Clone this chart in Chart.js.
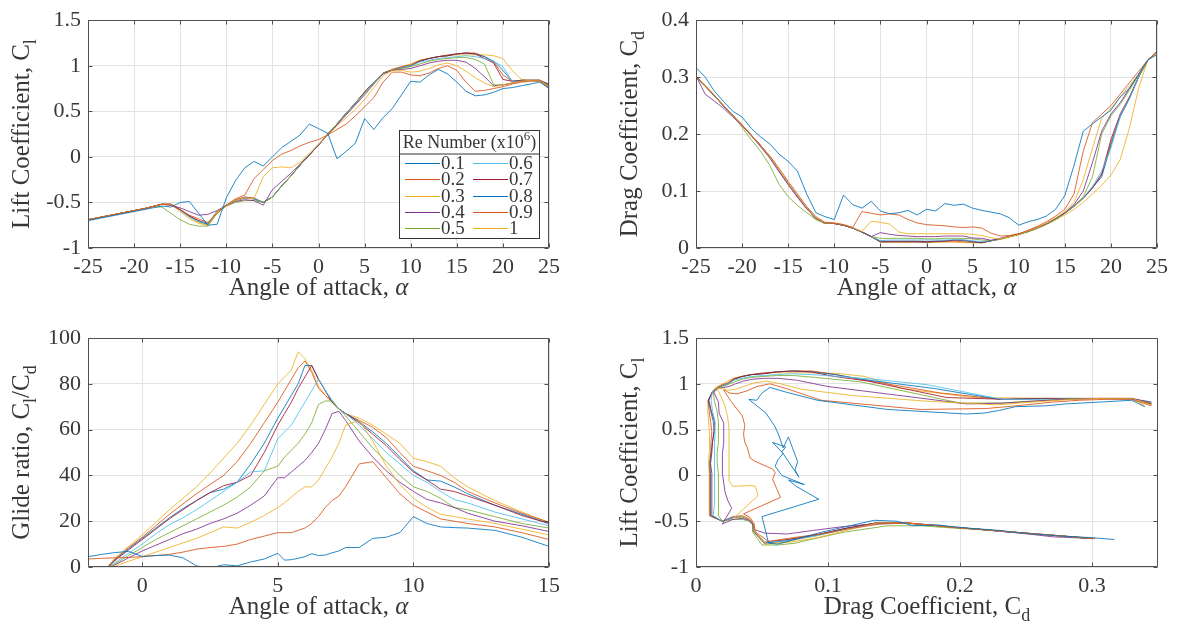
<!DOCTYPE html>
<html>
<head>
<meta charset="utf-8">
<script src="https://cdn.jsdelivr.net/npm/chart.js@4.4.1/dist/chart.umd.min.js"></script>
<style>
  html, body { margin: 0; padding: 0; background: #fff; }
  body { width: 1178px; height: 626px; position: relative; overflow: hidden; }
  .panel { position: absolute; width: 589px; height: 313px; }
</style>
</head>
<body>
<div class="panel" style="left:0;top:0"><canvas id="lift"></canvas></div>
<div class="panel" style="left:589px;top:0"><canvas id="drag"></canvas></div>
<div class="panel" style="left:0;top:313px"><canvas id="glide"></canvas></div>
<div class="panel" style="left:589px;top:313px"><canvas id="polar"></canvas></div>
<script>
// Re numbers (x10^6) and MATLAB default line colours
const reNumbers = ['0.1', '0.2', '0.3', '0.4', '0.5', '0.6', '0.7', '0.8', '0.9', '1'];
const lineColors = ['#0072BD', '#D95319', '#EDB120', '#7E2F8E', '#77AC30',
                    '#4DBEEE', '#A2142F', '#0072BD', '#D95319', '#EDB120'];

// angle of attack, deg
const alpha = [-25, -24, -23, -22, -21, -20, -19, -18, -17, -16, -15, -14, -13, -12, -11,
  -10, -9, -8, -7, -6, -5, -4, -3, -2, -1, 0, 1, 2, 3, 4, 5, 6, 7, 8, 9,
  10, 11, 12, 13, 14, 15, 16, 17, 18, 19, 20, 21, 22, 23, 24, 25];

// lift coefficient per Re
const cl01 = [-0.70,-0.68,-0.66,-0.64,-0.62,-0.60,-0.58,-0.56,-0.54,-0.55,-0.50,-0.49,-0.62,-0.75,-0.74,-0.45,-0.26,-0.12,-0.05,-0.10,0.00,0.10,0.17,0.24,0.36,0.31,0.26,-0.02,0.06,0.15,0.42,0.30,0.43,0.53,0.68,0.83,0.82,0.90,0.96,0.91,0.82,0.72,0.67,0.68,0.71,0.75,0.76,0.78,0.80,0.82,0.75];
const cl02 = [-0.69,-0.67,-0.65,-0.63,-0.61,-0.59,-0.57,-0.545,-0.52,-0.53,-0.58,-0.64,-0.68,-0.72,-0.62,-0.53,-0.46,-0.42,-0.24,-0.14,-0.04,0.03,0.07,0.12,0.16,0.19,0.24,0.30,0.36,0.45,0.55,0.65,0.82,0.93,0.93,0.90,0.89,0.92,0.97,1.00,0.95,0.82,0.72,0.73,0.75,0.77,0.80,0.82,0.83,0.83,0.76];
const cl03 = [-0.69,-0.67,-0.65,-0.63,-0.61,-0.59,-0.57,-0.545,-0.52,-0.52,-0.60,-0.68,-0.73,-0.75,-0.60,-0.53,-0.48,-0.45,-0.46,-0.22,-0.12,-0.11,-0.12,-0.06,0.04,0.14,0.24,0.34,0.43,0.52,0.63,0.76,0.89,0.95,0.95,0.93,0.94,0.97,1.01,1.03,1.00,0.94,0.87,0.81,0.77,0.79,0.81,0.83,0.84,0.84,0.77];
const cl04 = [-0.69,-0.67,-0.65,-0.63,-0.61,-0.59,-0.57,-0.545,-0.52,-0.53,-0.56,-0.60,-0.64,-0.63,-0.59,-0.53,-0.49,-0.47,-0.48,-0.53,-0.36,-0.27,-0.18,-0.08,0.02,0.13,0.24,0.35,0.46,0.57,0.68,0.80,0.91,0.95,0.96,0.97,1.00,1.03,1.05,1.06,1.06,1.04,0.97,0.88,0.78,0.79,0.81,0.83,0.84,0.84,0.80];
const cl05 = [-0.69,-0.67,-0.65,-0.63,-0.61,-0.59,-0.57,-0.55,-0.55,-0.62,-0.69,-0.74,-0.76,-0.76,-0.62,-0.54,-0.50,-0.48,-0.48,-0.50,-0.44,-0.32,-0.21,-0.09,0.02,0.13,0.25,0.36,0.47,0.58,0.70,0.81,0.92,0.95,0.97,0.99,1.02,1.05,1.07,1.08,1.09,1.09,1.07,1.02,0.79,0.79,0.81,0.83,0.84,0.84,0.79];
const cl06 = [-0.69,-0.67,-0.65,-0.63,-0.61,-0.59,-0.57,-0.545,-0.52,-0.53,-0.59,-0.66,-0.71,-0.73,-0.60,-0.53,-0.48,-0.45,-0.46,-0.50,-0.44,-0.32,-0.21,-0.09,0.02,0.13,0.25,0.36,0.48,0.59,0.70,0.82,0.92,0.95,0.98,1.00,1.04,1.06,1.08,1.09,1.10,1.11,1.10,1.08,1.05,0.99,0.83,0.83,0.84,0.83,0.80];
const cl07 = [-0.69,-0.67,-0.65,-0.63,-0.61,-0.59,-0.57,-0.545,-0.52,-0.52,-0.58,-0.65,-0.70,-0.73,-0.60,-0.53,-0.48,-0.45,-0.46,-0.50,-0.44,-0.32,-0.21,-0.09,0.02,0.13,0.25,0.36,0.48,0.59,0.71,0.82,0.92,0.95,0.98,1.00,1.05,1.08,1.10,1.11,1.13,1.14,1.13,1.08,1.03,0.85,0.83,0.84,0.84,0.84,0.78];
const cl08 = [-0.69,-0.67,-0.65,-0.63,-0.61,-0.59,-0.57,-0.545,-0.52,-0.52,-0.58,-0.65,-0.71,-0.74,-0.60,-0.53,-0.48,-0.45,-0.46,-0.50,-0.44,-0.32,-0.21,-0.09,0.02,0.13,0.25,0.36,0.48,0.59,0.71,0.82,0.92,0.95,0.98,1.00,1.05,1.08,1.10,1.11,1.13,1.14,1.13,1.10,1.05,0.95,0.83,0.84,0.84,0.84,0.78];
const cl09 = [-0.69,-0.67,-0.65,-0.63,-0.61,-0.59,-0.57,-0.545,-0.52,-0.52,-0.58,-0.65,-0.70,-0.74,-0.60,-0.53,-0.47,-0.44,-0.45,-0.50,-0.44,-0.32,-0.21,-0.09,0.02,0.13,0.25,0.36,0.48,0.59,0.71,0.82,0.92,0.96,0.99,1.01,1.06,1.08,1.10,1.12,1.13,1.14,1.14,1.10,1.04,0.90,0.83,0.84,0.84,0.84,0.78];
const cl10 = [-0.69,-0.67,-0.65,-0.63,-0.61,-0.59,-0.57,-0.545,-0.52,-0.52,-0.58,-0.66,-0.72,-0.75,-0.61,-0.53,-0.48,-0.45,-0.46,-0.50,-0.44,-0.32,-0.21,-0.09,0.02,0.13,0.25,0.36,0.48,0.59,0.71,0.82,0.92,0.96,0.99,1.02,1.06,1.08,1.10,1.11,1.12,1.12,1.12,1.12,1.11,1.08,0.95,0.85,0.84,0.84,0.76];

// drag coefficient per Re
const cd01 = [0.317,0.300,0.275,0.257,0.240,0.230,0.210,0.195,0.183,0.165,0.152,0.135,0.095,0.062,0.055,0.050,0.093,0.076,0.070,0.082,0.065,0.060,0.062,0.066,0.058,0.068,0.065,0.078,0.075,0.077,0.070,0.066,0.063,0.060,0.053,0.040,0.046,0.050,0.056,0.068,0.092,0.145,0.205,0.218,0.230,0.242,0.265,0.280,0.305,0.330,0.340];
const cd02 = [0.302,0.285,0.268,0.250,0.233,0.216,0.198,0.180,0.162,0.140,0.117,0.095,0.073,0.055,0.045,0.044,0.041,0.036,0.064,0.061,0.058,0.060,0.058,0.050,0.044,0.041,0.040,0.039,0.037,0.036,0.037,0.035,0.026,0.021,0.022,0.025,0.031,0.038,0.046,0.056,0.068,0.095,0.170,0.220,0.235,0.250,0.270,0.290,0.310,0.330,0.345];
const cd03 = [0.302,0.285,0.268,0.250,0.233,0.216,0.198,0.180,0.160,0.137,0.114,0.092,0.071,0.053,0.044,0.044,0.041,0.036,0.029,0.047,0.045,0.042,0.028,0.025,0.025,0.025,0.025,0.025,0.025,0.025,0.024,0.022,0.018,0.016,0.020,0.024,0.030,0.036,0.044,0.053,0.064,0.080,0.120,0.175,0.228,0.245,0.265,0.285,0.305,0.330,0.345];
const cd04 = [0.302,0.270,0.258,0.245,0.230,0.215,0.197,0.178,0.158,0.134,0.111,0.089,0.069,0.052,0.044,0.043,0.040,0.035,0.028,0.020,0.027,0.024,0.022,0.021,0.020,0.020,0.020,0.021,0.021,0.021,0.0175,0.017,0.0135,0.017,0.021,0.025,0.030,0.036,0.043,0.052,0.062,0.076,0.100,0.150,0.205,0.235,0.255,0.280,0.305,0.330,0.345];
const cd05 = [0.302,0.285,0.268,0.250,0.233,0.212,0.190,0.170,0.145,0.112,0.090,0.075,0.062,0.050,0.043,0.043,0.040,0.035,0.028,0.020,0.017,0.017,0.017,0.017,0.017,0.016,0.016,0.017,0.017,0.017,0.016,0.014,0.013,0.016,0.020,0.024,0.029,0.035,0.042,0.051,0.061,0.074,0.090,0.125,0.200,0.232,0.252,0.277,0.303,0.330,0.345];
const cd06 = [0.300,0.284,0.267,0.249,0.232,0.216,0.198,0.180,0.160,0.136,0.113,0.091,0.070,0.052,0.043,0.043,0.040,0.035,0.028,0.020,0.013,0.014,0.014,0.014,0.014,0.014,0.014,0.014,0.0145,0.0145,0.0125,0.0115,0.0125,0.016,0.020,0.024,0.029,0.035,0.042,0.051,0.061,0.073,0.088,0.108,0.135,0.175,0.232,0.262,0.300,0.330,0.345];
const cd07 = [0.300,0.284,0.267,0.249,0.232,0.216,0.198,0.180,0.160,0.136,0.113,0.091,0.070,0.052,0.043,0.043,0.040,0.035,0.028,0.020,0.012,0.012,0.012,0.012,0.012,0.011,0.012,0.0125,0.0135,0.014,0.0115,0.0098,0.0127,0.016,0.020,0.024,0.029,0.035,0.042,0.051,0.061,0.073,0.087,0.105,0.130,0.190,0.235,0.265,0.300,0.330,0.345];
const cd08 = [0.300,0.284,0.267,0.249,0.232,0.216,0.198,0.180,0.160,0.136,0.113,0.091,0.070,0.052,0.043,0.043,0.040,0.035,0.028,0.020,0.011,0.011,0.011,0.011,0.011,0.0105,0.0115,0.0124,0.014,0.013,0.011,0.0093,0.0127,0.016,0.020,0.024,0.029,0.035,0.042,0.051,0.061,0.074,0.088,0.106,0.125,0.180,0.230,0.262,0.300,0.330,0.345];
const cd09 = [0.300,0.284,0.267,0.249,0.232,0.216,0.198,0.180,0.160,0.136,0.113,0.091,0.070,0.052,0.043,0.043,0.040,0.035,0.028,0.020,0.0105,0.0105,0.0105,0.0105,0.0105,0.010,0.011,0.0113,0.012,0.011,0.0099,0.0092,0.0128,0.016,0.020,0.024,0.029,0.035,0.042,0.051,0.061,0.074,0.088,0.106,0.128,0.185,0.232,0.263,0.300,0.330,0.345];
const cd10 = [0.300,0.284,0.267,0.249,0.232,0.216,0.198,0.180,0.160,0.136,0.113,0.091,0.070,0.052,0.043,0.043,0.040,0.035,0.028,0.020,0.010,0.010,0.010,0.010,0.010,0.0095,0.010,0.0103,0.0101,0.0095,0.0089,0.009,0.0128,0.0148,0.019,0.023,0.028,0.034,0.041,0.049,0.058,0.068,0.080,0.095,0.110,0.128,0.155,0.210,0.280,0.330,0.340];

// glide ratio Cl/Cd, read on its own angle grid
const glideAlpha = [-2, -1.5, -1, -0.5, 0, 0.5, 1, 1.5, 2, 2.5, 3, 3.5, 4, 4.5, 5, 5.25, 5.5, 5.75,
  6, 6.25, 6.5, 6.75, 7, 7.25, 7.5, 8, 8.5, 9, 9.5, 10, 10.5, 11, 11.5, 12, 13, 14, 15];
const gl01 = [4.5,5.5,6.3,6.8,4.6,5.0,5.2,4.0,0.5,-0.5,1.0,0.5,2.2,3.5,6.0,3.0,3.2,3.8,4.5,5.8,5.0,5.2,6.2,7.0,8.5,8.5,12.5,13.0,15.0,22.0,19.0,17.5,17.2,17.0,16.0,13.0,9.0];
const gl02 = [3.5,3.8,4.0,4.2,4.5,5.0,5.5,6.5,7.8,8.5,9.0,10.0,12.0,13.5,15.0,15.0,15.0,16.0,17.0,19.0,22.0,26.0,29.0,31.0,35.0,45.0,46.0,39.0,32.0,27.0,24.0,21.0,20.0,19.0,17.5,15.0,12.0];
const gl03 = [-8,-3,0.5,2.5,4.5,6.5,8.5,10.5,12.5,15,17.5,17,19.5,22.5,26,28,30.5,33,35,35,38,43,48,54,62,64,55,44,36,30,26,23,22,21,19,16.5,14];
const gl04 = [-8,-3,1,4,7,9.5,12,14.5,16.5,19,21,23.5,27,31,39,39,41.5,44,46.5,50,54,60,67,68,64,55,48,42,37,33,29.5,28,26,23.5,20,18,15.5];
const gl05 = [-8,-3,1.5,5,8.5,12,15,18,21,24,27,30.5,35,42,44,48,51,54,58,63,71,72.5,72.5,69,66,59,52,46,40,35,33,30,26,25,22,19,17];
const gl06 = [-8,-3,2,6,10,14.5,18.5,21.5,25,29,33,37,41.5,42,56,59,62,67,72,77,82,77,73,69,67,62,56,50,45,40,37,33,29.5,28,24,21,18];
const gl07 = [-8,-3,3,7.5,12,16.5,21,25,29,32.5,35.5,37,40,50,62,67,72,78,83,88,82,77,72,69,67,63,58,53,47,41.5,38,34,33,31,27,22.5,19];
const gl08 = [-8,-3,3,8,12.5,17,21.5,25.5,29,32.5,34,37,45,54,65,70,75,80,88,88,82,77,72,69,67,63.5,59,54,48,42,38,37.5,35,32,27,23,19];
const gl09 = [-8,-3,3.5,8.5,13,18,23,27.5,32,36,40,46,54,63,72,77,82,87,90,85,78,75,72,69,67,64,61,56.5,50,44,42,40,37,33,28,23.5,19.5];
const gl10 = [-8,-3,4,9,14,19.5,25,30,35,41,47.5,54,62,71,80,83,86,94,91,86,79,75,72,69,67,65,62,58,54,47.5,46,44,39,35,29,24,19.5];

// tick values
const alphaTicks = [-25, -20, -15, -10, -5, 0, 5, 10, 15, 20, 25];
const liftTicks = [-1, -0.5, 0, 0.5, 1, 1.5];
const dragTicks = [0, 0.1, 0.2, 0.3, 0.4];
const glideAlphaTicks = [0, 5, 10, 15];
const glideTicks = [0, 20, 40, 60, 80, 100];
const polarDragTicks = [0, 0.1, 0.2, 0.3];

const liftSets = [cl01, cl02, cl03, cl04, cl05, cl06, cl07, cl08, cl09, cl10];
const dragSets = [cd01, cd02, cd03, cd04, cd05, cd06, cd07, cd08, cd09, cd10];
const glideSets = [gl01, gl02, gl03, gl04, gl05, gl06, gl07, gl08, gl09, gl10];

const FONT = '"Liberation Serif", "DejaVu Serif", serif';
const TEXT = '#383838';

function makeDatasets(getPoints) {
  return reNumbers.map((re, k) => ({
    label: re,
    data: getPoints(k),
    borderColor: lineColors[k],
    backgroundColor: lineColors[k],
    borderWidth: 0.85,
    pointRadius: 0,
    tension: 0
  }));
}

function fmt(v) { return String(Math.round(v * 100) / 100); }

function axes(o) {
  return {
    x: {
      type: 'linear', min: o.xMin, max: o.xMax,
      afterBuildTicks: s => { s.ticks = o.xTicks.map(v => ({ value: v })); },
      afterFit: s => { s.height = o.xHeight; },
      grid: { color: '#e2e2e2', drawTicks: false },
      border: { display: false },
      ticks: { autoSkip: false, maxRotation: 0, padding: 6, color: TEXT,
               font: { family: FONT, size: 22 }, callback: fmt }
    },
    y: {
      type: 'linear', min: o.yMin, max: o.yMax,
      afterBuildTicks: s => { s.ticks = o.yTicks.map(v => ({ value: v })); },
      afterFit: s => { s.width = o.yWidth; },
      grid: { color: '#e2e2e2', drawTicks: false },
      border: { display: false },
      ticks: { autoSkip: false, padding: 7, color: TEXT,
               font: { family: FONT, size: 22 }, callback: fmt }
    }
  };
}

// box around the axes with inward tick marks
const boxPlugin = {
  id: 'axesBox',
  afterDatasetsDraw(chart) {
    const { ctx, chartArea: a, scales } = chart;
    const L = Math.round(a.left) + 0.5, R = Math.round(a.right) - 0.5;
    const T = Math.round(a.top) + 0.5, B = Math.round(a.bottom) - 0.5;
    ctx.save();
    ctx.strokeStyle = '#505050';
    ctx.lineWidth = 1;
    ctx.beginPath();
    scales.x.ticks.forEach(t => {
      const p = Math.round(scales.x.getPixelForValue(t.value)) + 0.5;
      ctx.moveTo(p, B); ctx.lineTo(p, B - 4);
      ctx.moveTo(p, T); ctx.lineTo(p, T + 4);
    });
    scales.y.ticks.forEach(t => {
      const p = Math.round(scales.y.getPixelForValue(t.value)) + 0.5;
      ctx.moveTo(L, p); ctx.lineTo(L + 4, p);
      ctx.moveTo(R, p); ctx.lineTo(R - 4, p);
    });
    ctx.rect(L, T, R - L, B - T);
    ctx.stroke();
    ctx.restore();
  }
};

function drawRich(ctx, segs, cx, cy, rot, size) {
  const fontOf = s => (s.it ? 'italic ' : '') + ((s.sub || s.sup) ? Math.round(size * 0.72) : size) + 'px ' + FONT;
  ctx.save();
  ctx.translate(cx, cy);
  ctx.rotate(rot);
  ctx.fillStyle = TEXT;
  ctx.textBaseline = 'middle';
  ctx.textAlign = 'left';
  const widths = segs.map(s => { ctx.font = fontOf(s); return ctx.measureText(s.t).width; });
  let x = -widths.reduce((p, w) => p + w, 0) / 2;
  segs.forEach((s, i) => {
    ctx.font = fontOf(s);
    const dy = s.sub ? size * 0.36 : (s.sup ? -size * 0.38 : 0);
    ctx.fillText(s.t, x, dy);
    x += widths[i];
  });
  ctx.restore();
}

function titlePlugin(xSegs, ySegs) {
  return {
    id: 'axisTitles',
    afterDraw(chart) {
      const a = chart.chartArea;
      drawRich(chart.ctx, xSegs, (a.left + a.right) / 2, a.bottom + 40, 0, 25);
      drawRich(chart.ctx, ySegs, a.left - 66, (a.top + a.bottom) / 2, -Math.PI / 2, 25);
    }
  };
}

// boxed two-column legend like the MATLAB one
const legendPlugin = {
  id: 'reLegend',
  afterDraw(chart) {
    const ctx = chart.ctx;
    const bx = 399.5, by = 130.5, bw = 140, bh = 108;
    ctx.save();
    ctx.fillStyle = '#fff';
    ctx.fillRect(bx, by, bw, bh);
    ctx.strokeStyle = '#333';
    ctx.lineWidth = 1;
    ctx.strokeRect(bx, by, bw, bh);
    ctx.beginPath();
    ctx.moveTo(bx, by + 23.5); ctx.lineTo(bx + bw, by + 23.5);
    ctx.stroke();
    drawRich(ctx, [{ t: 'Re Number (x10' }, { t: '6', sup: true }, { t: ')' }], bx + bw / 2, by + 13, 0, 18);
    chart.data.datasets.forEach((ds, k) => {
      const col = Math.floor(k / 5), row = k % 5;
      const y = Math.round(by + 32.5 + row * 16.3) + 0.5;
      const x0 = col ? 473 : 405;
      ctx.strokeStyle = ds.borderColor;
      ctx.lineWidth = 1;
      ctx.beginPath();
      ctx.moveTo(x0, y); ctx.lineTo(x0 + 35, y);
      ctx.stroke();
      ctx.fillStyle = TEXT;
      ctx.font = '19px ' + FONT;
      ctx.textBaseline = 'middle';
      ctx.textAlign = 'left';
      ctx.fillText(ds.label, x0 + 36, y + 1);
    });
    ctx.restore();
  }
};

const common = {
  responsive: true,
  maintainAspectRatio: false,
  animation: false,
  events: [],
  plugins: { legend: { display: false }, tooltip: { enabled: false } }
};

const aoa = [{ t: 'Angle of attack, ' }, { t: 'α', it: true }];

new Chart(document.getElementById('lift'), {
  type: 'line',
  data: { datasets: makeDatasets(k => alpha.map((a, i) => ({ x: a, y: liftSets[k][i] }))) },
  options: Object.assign({}, common, {
    layout: { padding: { top: 19, right: 40, left: 0, bottom: 0 } },
    scales: axes({ xMin: -25, xMax: 25, xTicks: alphaTicks, yMin: -1, yMax: 1.5, yTicks: liftTicks,
                   yWidth: 88, xHeight: 65 })
  }),
  plugins: [boxPlugin, titlePlugin(aoa, [{ t: 'Lift Coefficient, C' }, { t: 'l', sub: true }]), legendPlugin]
});

new Chart(document.getElementById('drag'), {
  type: 'line',
  data: { datasets: makeDatasets(k => alpha.map((a, i) => ({ x: a, y: dragSets[k][i] }))) },
  options: Object.assign({}, common, {
    layout: { padding: { top: 18, right: 21, left: 0, bottom: 0 } },
    scales: axes({ xMin: -25, xMax: 25, xTicks: alphaTicks, yMin: 0, yMax: 0.4, yTicks: dragTicks,
                   yWidth: 107, xHeight: 65 })
  }),
  plugins: [boxPlugin, titlePlugin(aoa, [{ t: 'Drag Coefficient, C' }, { t: 'd', sub: true }])]
});

new Chart(document.getElementById('glide'), {
  type: 'line',
  data: { datasets: makeDatasets(k => glideAlpha.map((a, i) => ({ x: a, y: glideSets[k][i] }))) },
  options: Object.assign({}, common, {
    layout: { padding: { top: 25, right: 40, left: 0, bottom: 0 } },
    scales: axes({ xMin: -2, xMax: 15, xTicks: glideAlphaTicks, yMin: 0, yMax: 100, yTicks: glideTicks,
                   yWidth: 88, xHeight: 59 })
  }),
  plugins: [boxPlugin, titlePlugin(aoa, [{ t: 'Glide ratio, C' }, { t: 'l', sub: true }, { t: '/C' }, { t: 'd', sub: true }])]
});

new Chart(document.getElementById('polar'), {
  type: 'line',
  data: { datasets: makeDatasets(k => dragSets[k].map((cd, i) => ({ x: cd, y: liftSets[k][i] }))) },
  options: Object.assign({}, common, {
    layout: { padding: { top: 25, right: 20, left: 0, bottom: 0 } },
    scales: axes({ xMin: 0, xMax: 0.35, xTicks: polarDragTicks, yMin: -1, yMax: 1.5, yTicks: liftTicks,
                   yWidth: 107, xHeight: 59 })
  }),
  plugins: [boxPlugin, titlePlugin([{ t: 'Drag Coefficient, C' }, { t: 'd', sub: true }], [{ t: 'Lift Coefficient, C' }, { t: 'l', sub: true }])]
});
</script>
</body>
</html>
